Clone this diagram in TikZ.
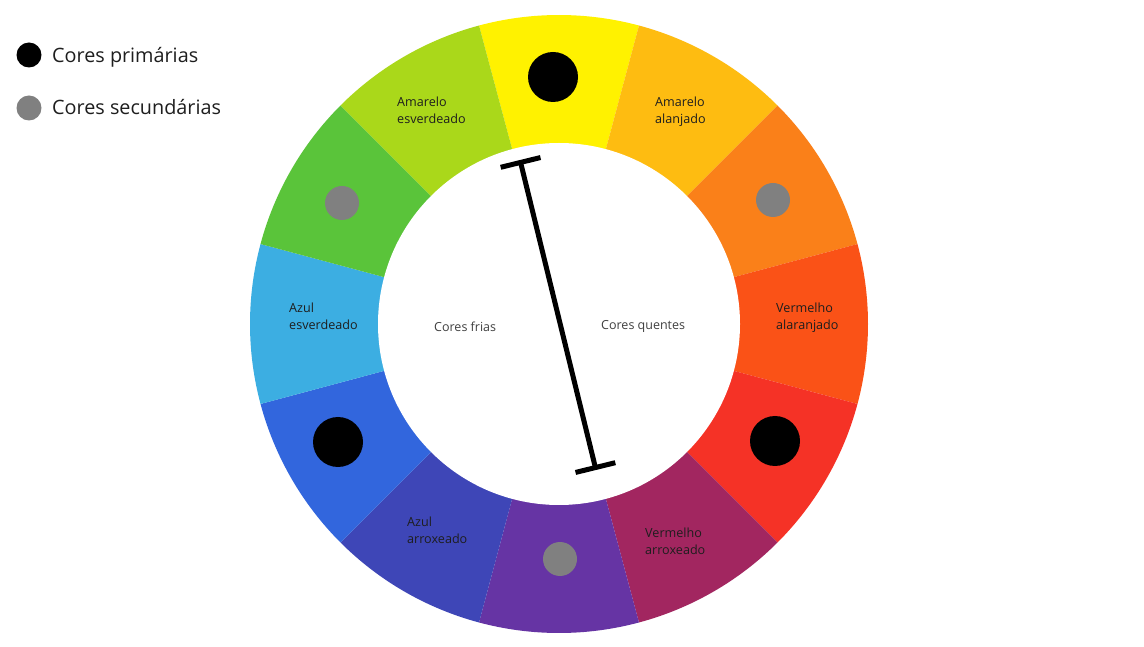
\documentclass[tikz,border=0pt]{standalone}
\usepackage{fontspec}
\setmainfont{Open Sans}
\usetikzlibrary{arrows.meta}
\definecolor{cY}{RGB}{255,242,0}
\definecolor{cYO}{RGB}{254,188,17}
\definecolor{cO}{RGB}{250,128,25}
\definecolor{cRO}{RGB}{250,82,23}
\definecolor{cR}{RGB}{245,50,38}
\definecolor{cRV}{RGB}{162,38,96}
\definecolor{cV}{RGB}{102,52,164}
\definecolor{cBV}{RGB}{62,70,183}
\definecolor{cB}{RGB}{50,102,221}
\definecolor{cBG}{RGB}{60,174,226}
\definecolor{cG}{RGB}{90,196,58}
\definecolor{cYG}{RGB}{170,216,26}
\definecolor{dotgray}{RGB}{128,128,128}
\definecolor{txt}{RGB}{30,30,30}
\tikzset{
  lbl/.style={anchor=west,inner sep=0pt,align=left,text=txt,font=\fontsize{12.6}{17}\selectfont},
  inlbl/.style={anchor=base west,inner sep=0pt,text=txt!85,font=\fontsize{12.5}{15}\selectfont},
  leg/.style={anchor=base west,inner sep=0pt,text=txt,font=\fontsize{19.8}{23}\selectfont},
  pdot/.style={circle,fill=black,minimum size=50pt,inner sep=0pt},
  sdot/.style={circle,fill=dotgray,minimum size=34pt,inner sep=0pt},
  lpdot/.style={circle,fill=black,minimum size=25pt,inner sep=0pt},
  lsdot/.style={circle,fill=dotgray,minimum size=25pt,inner sep=0pt},
  divider/.style={line width=5pt,{Bar[width=41pt,line width=5pt]}-{Bar[width=41pt,line width=5pt]}},
}
\begin{document}
\begin{tikzpicture}[x=1pt,y=1pt]
\useasboundingbox (0,0) rectangle (1144,646);
\fill[white] (0,0) rectangle (1144,646);
% wheel
\begin{scope}[shift={(559,322)}]
\foreach \c/\col in {90/cY,60/cYO,30/cO,0/cRO,-30/cR,-60/cRV,-90/cV,-120/cBV,-150/cB,180/cBG,150/cG,120/cYG}{
  \fill[\col] (0,0) -- ({\c-15}:309) arc[start angle=\c-15,end angle=\c+15,radius=309] -- cycle;
}
\fill[white] (0,0) circle[radius=181];
\end{scope}
% labels
\node[lbl] (ye) at (397,536) {Amarelo\\esverdeado};
\node[lbl] (ya) at (655,534) {Amarelo\\alanjado};
\node[lbl] (va) at (776,328) {Vermelho\\alaranjado};
\node[lbl] (ae) at (289,330) {Azul\\esverdeado};
\node[lbl] (aa) at (407,116) {Azul\\arroxeado};
\node[lbl] (vx) at (645,105) {Vermelho\\arroxeado};
\node[inlbl] (cf) at (434,314) {Cores frias};
\node[inlbl] (cq) at (601,316) {Cores quentes};
% dots
\node[pdot] (py) at (553,569) {};
\node[pdot] (pb) at (338,204) {};
\node[pdot] (pr) at (775,205) {};
\node[sdot] (sg) at (342,443) {};
\node[sdot] (so) at (773,446) {};
\node[sdot] (sv) at (560,87) {};
% divider
\coordinate (dtop) at (520,486);
\coordinate (dbot) at (596,176);
\draw[divider] (dtop) -- (dbot);
% legend
\node[lpdot] (l1) at (29,591) {};
\node[leg] (t1) at (52,583) {Cores primárias};
\node[lsdot] (l2) at (29,538) {};
\node[leg] (t2) at (52,531) {Cores secundárias};
\end{tikzpicture}
\end{document}
